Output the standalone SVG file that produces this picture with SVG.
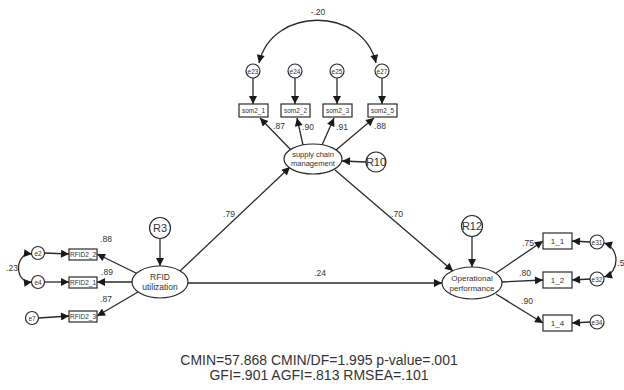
<svg xmlns="http://www.w3.org/2000/svg" width="624" height="390" viewBox="0 0 624 390">
<defs>
<marker id="ah" viewBox="0 0 10 10" refX="10" refY="5" markerWidth="9" markerHeight="8" markerUnits="userSpaceOnUse" orient="auto-start-reverse">
<path d="M0,0 L10,5 L0,10 z" fill="#1a1a1a"/>
</marker>
<style>
.ln{stroke:#2a2a2a;stroke-width:1.3;fill:none;marker-end:url(#ah)}
.cv{stroke:#2a2a2a;stroke-width:1.3;fill:none;marker-start:url(#ah);marker-end:url(#ah)}
.sh{fill:#fff;stroke:#2a2a2a;stroke-width:1.2}
.t{font-family:"Liberation Sans",Arial,sans-serif;fill:#333;text-anchor:middle}
.s{font-size:6.5px}
.m{font-size:8.5px}
.r{font-size:11px}
.w{font-size:14px}
</style>
</defs>
<rect width="624" height="390" fill="#fff"/>
<g id="connectors">
<path class="cv" d="M259,63 C272,6 363,6 376,63"/>
<line class="ln" x1="253" y1="78" x2="253" y2="104"/>
<line class="ln" x1="295" y1="78" x2="295" y2="104"/>
<line class="ln" x1="337" y1="78" x2="337" y2="104"/>
<line class="ln" x1="382" y1="78" x2="382" y2="104"/>
<line class="ln" x1="291" y1="150" x2="260" y2="118"/>
<line class="ln" x1="303" y1="145" x2="297" y2="118"/>
<line class="ln" x1="322" y1="145" x2="334" y2="118"/>
<line class="ln" x1="336" y1="150" x2="374" y2="118"/>
<line class="ln" x1="366" y1="162" x2="342" y2="161"/>
<line class="ln" x1="160" y1="239" x2="160" y2="266"/>
<line class="ln" x1="472" y1="237" x2="472" y2="267"/>
<line class="ln" x1="180" y1="271" x2="290" y2="167"/>
<line class="ln" x1="335" y1="170" x2="453" y2="271"/>
<line class="ln" x1="188" y1="283" x2="442" y2="283"/>
<path class="cv" d="M32,254 C14,252 14,284 32,282"/>
<line class="ln" x1="44.5" y1="253" x2="69" y2="254"/>
<line class="ln" x1="44.5" y1="282" x2="69" y2="282"/>
<line class="ln" x1="38.5" y1="318" x2="69" y2="316"/>
<line class="ln" x1="138" y1="274" x2="97" y2="254"/>
<line class="ln" x1="133" y1="282" x2="97" y2="282"/>
<line class="ln" x1="138" y1="292" x2="97" y2="316"/>
<line class="ln" x1="496" y1="273" x2="543" y2="241"/>
<line class="ln" x1="502" y1="282" x2="543" y2="280"/>
<line class="ln" x1="496" y1="294" x2="543" y2="323"/>
<line class="ln" x1="590" y1="242" x2="572" y2="241"/>
<line class="ln" x1="590" y1="279" x2="572" y2="280"/>
<line class="ln" x1="590" y1="322" x2="572" y2="323"/>
<path class="cv" d="M604,243 C620,248 620,272 604,277"/>
</g>
<g id="labels">
<text class="t m" x="318" y="15">-.20</text>
<text class="t m" x="279" y="129">.87</text>
<text class="t m" x="308" y="130">.90</text>
<text class="t m" x="342" y="130">.91</text>
<text class="t m" x="380" y="129">.88</text>
<text class="t m" x="229" y="217">.79</text>
<text class="t m" x="397" y="217">.70</text>
<text class="t m" x="320" y="276">.24</text>
<text class="t m" x="106" y="242">.88</text>
<text class="t m" x="107" y="275">.89</text>
<text class="t m" x="106" y="302">.87</text>
<text class="t m" x="12" y="271">.23</text>
<text class="t m" x="528" y="246">.75</text>
<text class="t m" x="525" y="276">.80</text>
<text class="t m" x="527" y="304">.90</text>
<text class="t m" x="621" y="266">.5</text>
</g>
<g id="e23"><circle class="sh" cx="253" cy="71" r="7"/><text class="t s" x="253" y="73.5">e23</text></g>
<g id="e24"><circle class="sh" cx="295" cy="71" r="7"/><text class="t s" x="295" y="73.5">e24</text></g>
<g id="e25"><circle class="sh" cx="337" cy="71" r="7"/><text class="t s" x="337" y="73.5">e25</text></g>
<g id="e27"><circle class="sh" cx="382" cy="71" r="7"/><text class="t s" x="382" y="73.5">e27</text></g>
<g id="som2_1"><rect class="sh" x="239" y="104" width="29" height="13"/><text class="t s" x="253.5" y="113">som2_1</text></g>
<g id="som2_2"><rect class="sh" x="281" y="104" width="29" height="13"/><text class="t s" x="295.5" y="113">som2_2</text></g>
<g id="som2_3"><rect class="sh" x="323" y="104" width="29" height="13"/><text class="t s" x="337.5" y="113">som2_3</text></g>
<g id="som2_5"><rect class="sh" x="368" y="104" width="29" height="13"/><text class="t s" x="382.5" y="113">som2_5</text></g>
<g id="scm"><ellipse class="sh" cx="313" cy="159" rx="29" ry="15"/><text class="t" font-size="7.5" x="313" y="157">supply chain</text><text class="t" font-size="7.5" x="313" y="166">management</text></g>
<g id="R10"><circle class="sh" cx="376" cy="162" r="10"/><text class="t r" x="376" y="166">R10</text></g>
<g id="R3"><circle class="sh" cx="160" cy="228" r="10.5"/><text class="t r" x="160" y="232">R3</text></g>
<g id="rfid"><ellipse class="sh" cx="160" cy="282" rx="28" ry="16"/><text class="t" font-size="8.5" x="160" y="280">RFID</text><text class="t" font-size="8.5" x="160" y="290">utilization</text></g>
<g id="e2"><circle class="sh" cx="38" cy="253" r="6.5"/><text class="t s" x="38" y="255.5">e2</text></g>
<g id="e4"><circle class="sh" cx="38" cy="282" r="6.5"/><text class="t s" x="38" y="284.5">e4</text></g>
<g id="e7"><circle class="sh" cx="32" cy="318" r="6.5"/><text class="t s" x="32" y="320.5">e7</text></g>
<g id="RFID2_2"><rect class="sh" x="69" y="249" width="28" height="11"/><text class="t s" x="83" y="257">RFID2_2</text></g>
<g id="RFID2_1"><rect class="sh" x="69" y="277" width="28" height="11"/><text class="t s" x="83" y="285">RFID2_1</text></g>
<g id="RFID2_3"><rect class="sh" x="69" y="311" width="28" height="11"/><text class="t s" x="83" y="319">RFID2_3</text></g>
<g id="R12"><circle class="sh" cx="472" cy="226" r="10.5"/><text class="t r" x="472" y="230">R12</text></g>
<g id="op"><ellipse class="sh" cx="472" cy="283" rx="30" ry="16"/><text class="t" font-size="8" x="472" y="281">Operational</text><text class="t" font-size="8" x="472" y="291">performance</text></g>
<g id="b1_1"><rect class="sh" x="543" y="233" width="29" height="16"/><text class="t" font-size="8" x="557.5" y="244">1_1</text></g>
<g id="b1_2"><rect class="sh" x="543" y="272" width="29" height="16"/><text class="t" font-size="8" x="557.5" y="283">1_2</text></g>
<g id="b1_4"><rect class="sh" x="543" y="315" width="29" height="16"/><text class="t" font-size="8" x="557.5" y="326">1_4</text></g>
<g id="e31"><circle class="sh" cx="597" cy="242" r="7"/><text class="t s" x="597" y="244.5">e31</text></g>
<g id="e32"><circle class="sh" cx="597" cy="279" r="7"/><text class="t s" x="597" y="281.5">e32</text></g>
<g id="e34"><circle class="sh" cx="597" cy="322" r="7"/><text class="t s" x="597" y="324.5">e34</text></g>
<g id="fit">
<text class="t w" x="319" y="365">CMIN=57.868 CMIN/DF=1.995 p-value=.001</text>
<text class="t w" x="319" y="380">GFI=.901 AGFI=.813 RMSEA=.101</text>
</g>
</svg>
